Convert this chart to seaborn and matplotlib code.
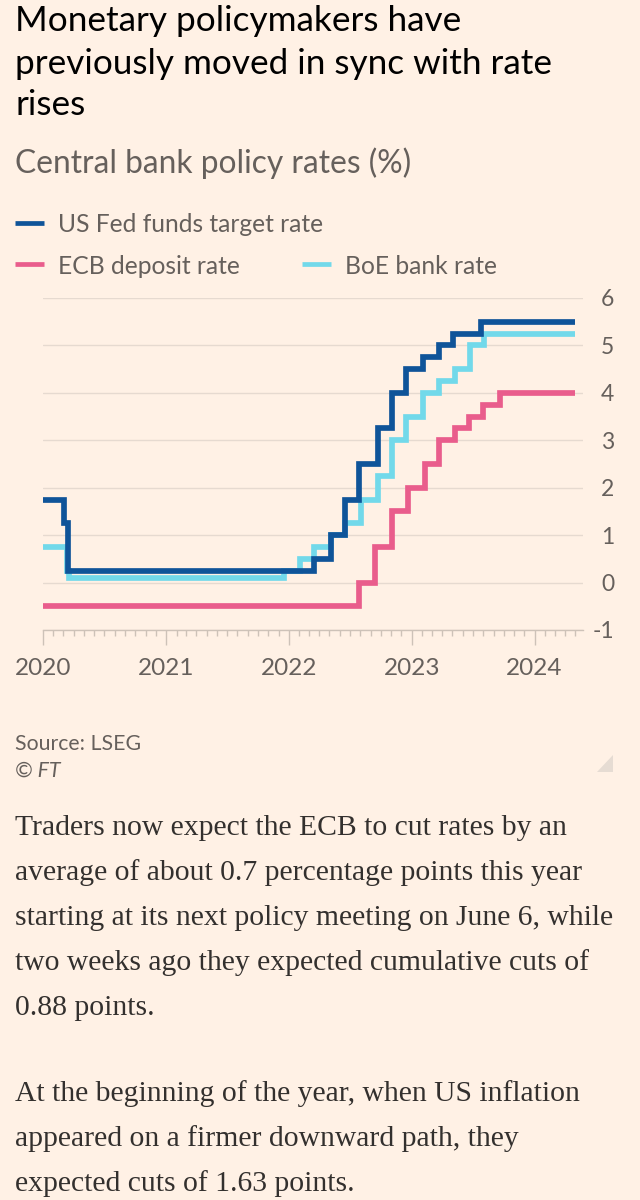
import matplotlib
matplotlib.use("Agg")
import matplotlib.pyplot as plt
import matplotlib.dates as mdates
from matplotlib.patches import Polygon
import seaborn as sns
import pandas as pd

# ---------------- data ----------------
fed_dates = ["2020-01-01", "2020-03-03", "2020-03-16", "2022-03-17", "2022-05-05",
             "2022-06-16", "2022-07-28", "2022-09-22", "2022-11-03", "2022-12-15",
             "2023-02-02", "2023-03-23", "2023-05-04", "2023-07-27"]
fed_rates = [1.75, 1.25, 0.25, 0.5, 1.0, 1.75, 2.5, 3.25, 4.0, 4.5, 4.75, 5.0, 5.25, 5.5]

ecb_dates = ["2020-01-01", "2022-07-27", "2022-09-14", "2022-11-02", "2022-12-21",
             "2023-02-08", "2023-03-22", "2023-05-10", "2023-06-21", "2023-08-02",
             "2023-09-20"]
ecb_rates = [-0.5, 0.0, 0.75, 1.5, 2.0, 2.5, 3.0, 3.25, 3.5, 3.75, 4.0]

boe_dates = ["2020-01-01", "2020-03-11", "2020-03-19", "2021-12-16", "2022-02-03",
             "2022-03-17", "2022-05-05", "2022-06-16", "2022-08-04", "2022-09-22",
             "2022-11-03", "2022-12-15", "2023-02-02", "2023-03-23", "2023-05-11",
             "2023-06-22", "2023-08-03"]
boe_rates = [0.75, 0.25, 0.1, 0.25, 0.5, 0.75, 1.0, 1.25, 1.75, 2.25, 3.0, 3.5,
             4.0, 4.25, 4.5, 5.0, 5.25]

end_date = "2024-04-30"
series_names = ["US Fed funds target rate", "ECB deposit rate", "BoE bank rate"]
year_labels = ["2020", "2021", "2022", "2023", "2024"]
y_ticks = [-1, 0, 1, 2, 3, 4, 5, 6]

title_lines = ["Monetary policymakers have", "previously moved in sync with rate", "rises"]
subtitle = "Central bank policy rates (%)"
source = "Source: LSEG"
copyright_txt = "© FT"
body_lines = [
    "Traders now expect the ECB to cut rates by an",
    "average of about 0.7 percentage points this year",
    "starting at its next policy meeting on June 6, while",
    "two weeks ago they expected cumulative cuts of",
    "0.88 points.",
    "",
    "At the beginning of the year, when US inflation",
    "appeared on a firmer downward path, they",
    "expected cuts of 1.63 points.",
]

# ---------------- style ----------------
BG = "#fff1e5"
C_FED = "#0f5499"
C_ECB = "#e95d8c"
C_BOE = "#72d9ea"
GREY = "#66605c"
AXC = "#cdc2b8"
SANS = ["Lato", "DejaVu Sans"]
SERIF = ["Liberation Serif", "DejaVu Serif"]

sns.set_theme(style="white")
plt.rcParams["font.family"] = SANS

W, H = 640, 1200
fig = plt.figure(figsize=(W / 100, H / 100), dpi=100, facecolor=BG)


def build(dates, rates, name):
    d = pd.to_datetime(list(dates) + [end_date])
    r = list(rates) + [rates[-1]]
    return pd.DataFrame({"date": d, "rate": r, "series": name})


df = pd.concat([build(fed_dates, fed_rates, series_names[0]),
                build(ecb_dates, ecb_rates, series_names[1]),
                build(boe_dates, boe_rates, series_names[2])], ignore_index=True)
palette = {series_names[0]: C_FED, series_names[1]: C_ECB, series_names[2]: C_BOE}

# axes: x 43..583 px, y 298..630 px
ax = fig.add_axes([43 / W, 1 - 630 / H, (583 - 43) / W, (630 - 298) / H])
ax.set_facecolor(BG)
sns.lineplot(data=df, x="date", y="rate", hue="series",
             hue_order=[series_names[1], series_names[2], series_names[0]],
             palette=palette, drawstyle="steps-post", linewidth=4.1,
             legend=False, ax=ax, solid_capstyle="butt", solid_joinstyle="miter")

ax.set_xlim(pd.Timestamp("2020-01-01"), pd.Timestamp("2024-05-24"))
ax.set_ylim(-1, 6)
ax.set_yticks(y_ticks)
ax.set_yticklabels([str(v) for v in y_ticks])
ax.yaxis.tick_right()
ax.grid(axis="y", color="#e6dad0", linewidth=1)
ax.grid(axis="x", visible=False)
for s in ["top", "left", "right"]:
    ax.spines[s].set_visible(False)
ax.spines["bottom"].set_color(AXC)
ax.spines["bottom"].set_linewidth(1)
ax.set_xlabel("")
ax.set_ylabel("")
ax.xaxis.set_major_locator(mdates.YearLocator())
ax.xaxis.set_major_formatter(mdates.DateFormatter("%Y"))
ax.xaxis.set_minor_locator(mdates.MonthLocator())
ax.tick_params(axis="x", which="major", length=11, width=1, color=AXC,
               direction="out", labelsize=17.5, labelcolor=GREY, pad=9, bottom=True)
ax.tick_params(axis="x", which="minor", length=4.5, width=1, color=AXC,
               direction="out", bottom=True)
ax.tick_params(axis="y", length=0, labelsize=16.5, labelcolor=GREY, pad=22.5)
for lab in ax.get_yticklabels():
    lab.set_horizontalalignment("right")

renderer = fig.canvas.get_renderer()


def fit(text, fam, target_px, **kw):
    t = fig.text(0, 0, text, fontsize=10, family=fam, **kw)
    w = t.get_window_extent(renderer).width
    t.remove()
    return 10 * target_px / w


def ytop(px):
    return 1 - px / H


# title
ts = fit(title_lines[1], SANS, 537)
for line, base in zip(title_lines, [31, 74, 115]):
    fig.text(15 / W, ytop(base), line, fontsize=ts, family=SANS, color="#000000",
             va="baseline", ha="left")

# subtitle
ss = fit(subtitle, SANS, 397)
fig.text(15 / W, ytop(173), subtitle, fontsize=ss, family=SANS, color=GREY,
         va="baseline", ha="left")

# legend
ls = fit(series_names[0], SANS, 266)
legend_items = [(series_names[0], C_FED, 15, 223), (series_names[1], C_ECB, 15, 264),
                (series_names[2], C_BOE, 302, 264)]
for name, col, x0, yc in legend_items:
    fig.add_artist(plt.Line2D([x0 / W, (x0 + 29) / W], [ytop(yc), ytop(yc)],
                              color=col, linewidth=3.4, solid_capstyle="butt",
                              transform=fig.transFigure))
    fig.text((x0 + 43) / W, ytop(yc), name, fontsize=ls, family=SANS, color=GREY,
             va="center_baseline", ha="left")

# source
srs = fit(source, SANS, 125)
fig.text(15 / W, ytop(750), source, fontsize=srs, family=SANS, color=GREY,
         va="baseline", ha="left")
fig.text(15 / W, ytop(777), copyright_txt, fontsize=srs, family=SANS, color=GREY,
         style="italic", va="baseline", ha="left")
fig.add_artist(Polygon([[597 / W, ytop(772)], [613 / W, ytop(772)], [613 / W, ytop(755)]],
                       closed=True, facecolor="#e6dcd3", edgecolor="none",
                       transform=fig.transFigure))

# body text
bs = fit(body_lines[2], SERIF, 597)
base = 835
for line in body_lines:
    if line:
        fig.text(15 / W, ytop(base), line, fontsize=bs, family=SERIF, color="#33302e",
                 va="baseline", ha="left")
    base += 45 if line else 41

fig.savefig("out.png", dpi=100, facecolor=BG)
